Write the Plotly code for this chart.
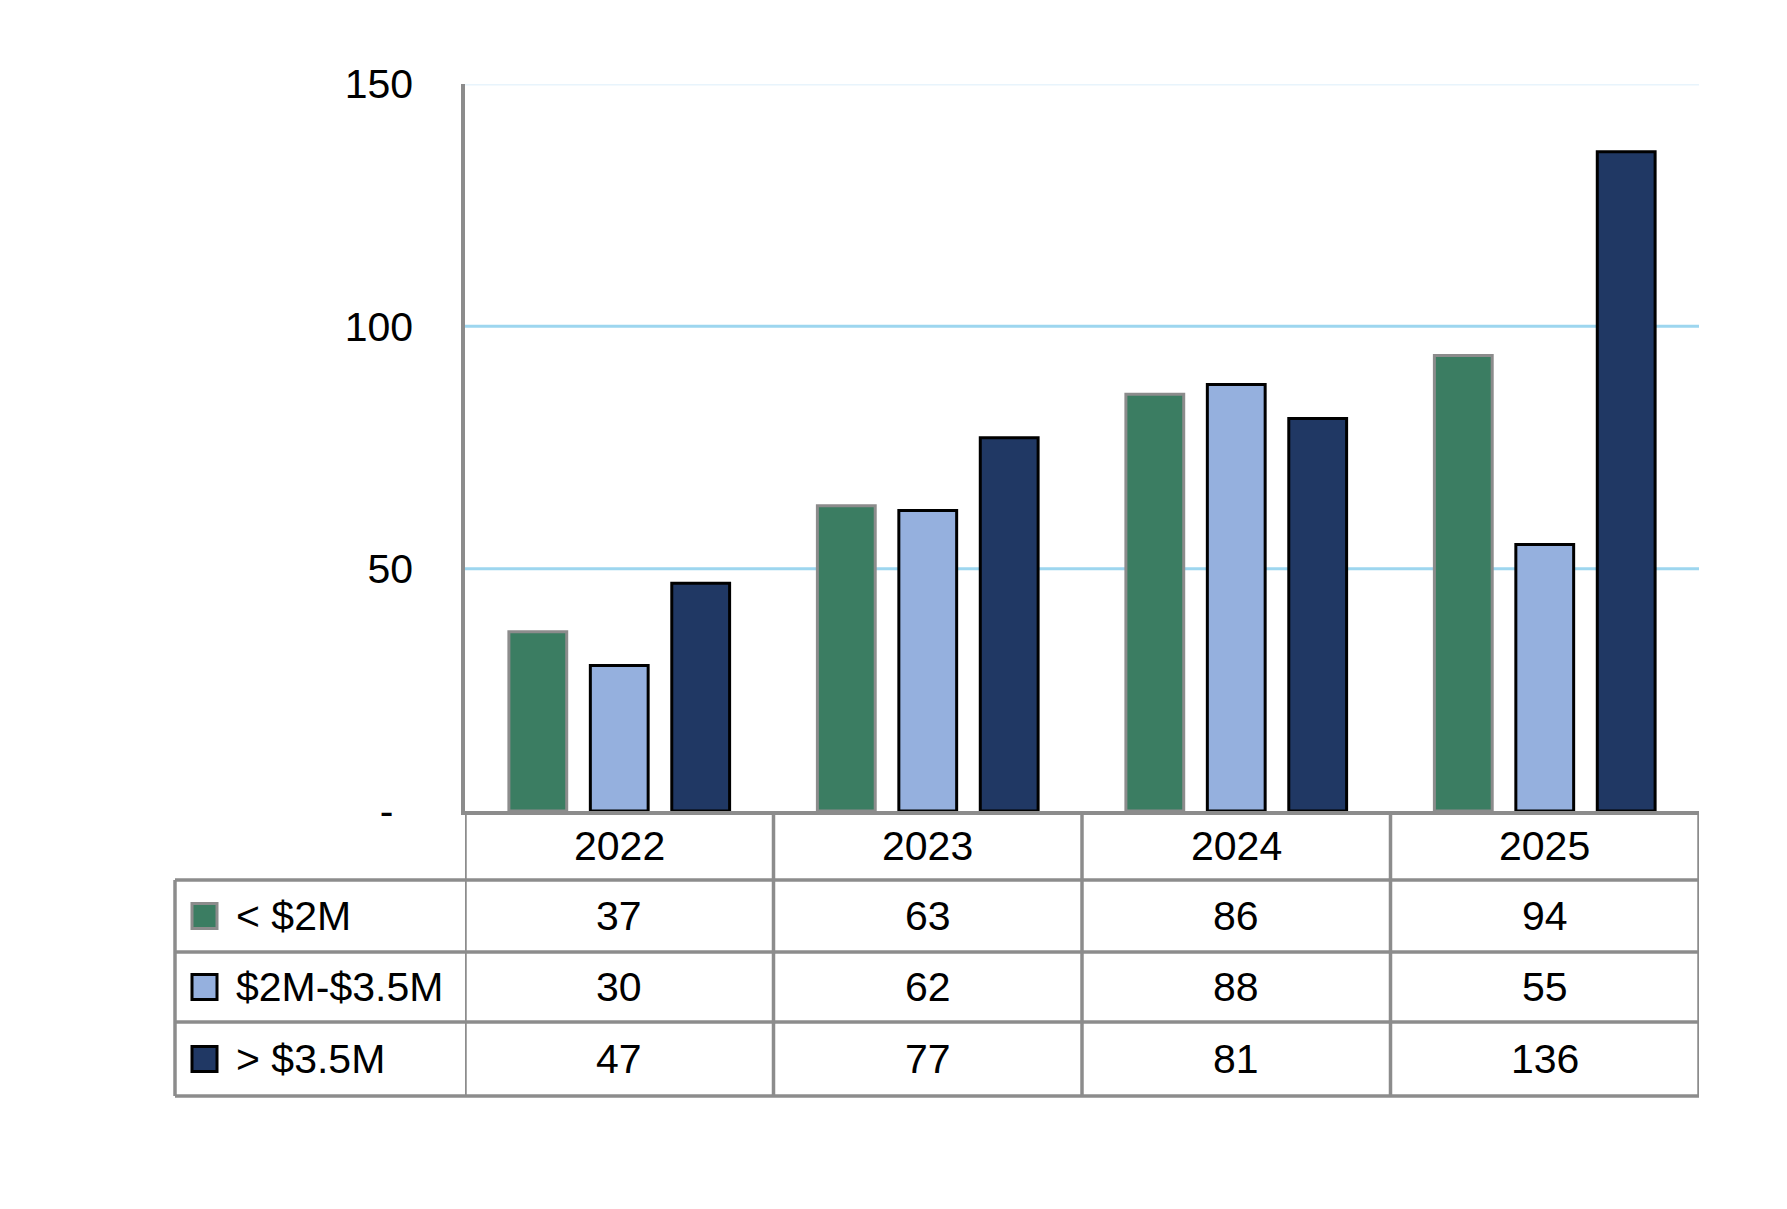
import plotly.graph_objects as go

years = ["2022", "2023", "2024", "2025"]
series_names = ["< $2M", "$2M-$3.5M", "> $3.5M"]
under_2m = [37, 63, 86, 94]
mid_2m_35m = [30, 62, 88, 55]
over_35m = [47, 77, 81, 136]
series_values = [under_2m, mid_2m_35m, over_35m]
y_tickvals = [0, 50, 100, 150]
y_ticktext = ["-\u00a0\u2009", "50", "100", "150"]

fills = ["#3B7D62", "#95B0DE", "#203864"]
outlines = ["#8C8C8C", "#000000", "#000000"]

OFF = 8  # page body margin
W, H = 1787 - OFF, 1209 - OFF
L, R, T, B = 465, 1699, 84, 811
FONT = "Liberation Sans, Arial, sans-serif"
FS = 41
GRAY = "#8C8C8C"


def px(xp):
    return (xp - L) / (R - L)


def py(yp):
    return (B - yp) / (B - T)


fig = go.Figure()
for name, vals, fc, lc in zip(series_names, series_values, fills, outlines):
    fig.add_trace(go.Bar(
        x=years, y=vals, name=name,
        marker=dict(color=fc, line=dict(color=lc, width=3)),
        showlegend=False,
    ))

shapes = []
for v, col in [(50, "#9DD6EF"), (100, "#9DD6EF"), (150, "#E8F4FC")]:
    shapes.append(dict(type="line", xref="paper", yref="y", x0=0, x1=1, y0=v, y1=v,
                       line=dict(color=col, width=3), layer="below"))

row_lines = [880, 952, 1022, 1096]
table_left = 175
LW = 3.5
for yl in row_lines:
    shapes.append(dict(type="line", xref="paper", yref="paper",
                       x0=px(table_left), x1=1, y0=py(yl), y1=py(yl),
                       line=dict(color=GRAY, width=LW)))
shapes.append(dict(type="line", xref="paper", yref="paper",
                   x0=px(table_left), x1=px(table_left), y0=py(row_lines[0]), y1=py(row_lines[-1]),
                   line=dict(color=GRAY, width=LW)))
for i in range(len(years) + 1):
    shapes.append(dict(type="line", xref="x", yref="paper",
                       x0=i - 0.5, x1=i - 0.5, y0=0, y1=py(row_lines[-1]),
                       line=dict(color=GRAY, width=LW)))

annotations = []
row_centers = [(row_lines[k] + row_lines[k + 1]) / 2 for k in range(3)]
for k, (name, vals, fc, lc) in enumerate(zip(series_names, series_values, fills, outlines)):
    yc = row_centers[k]
    shapes.append(dict(type="rect", xref="paper", yref="paper",
                       x0=px(192), x1=px(217), y0=py(yc - 12.5), y1=py(yc + 12.5),
                       fillcolor=fc, line=dict(color=lc, width=3)))
    annotations.append(dict(x=px(234), y=py(yc), xref="paper", yref="paper",
                            text=name, showarrow=False, xanchor="left", yanchor="middle",
                            font=dict(family=FONT, size=FS, color="#000000")))
    for i, v in enumerate(vals):
        annotations.append(dict(x=i, y=py(yc), xref="x", yref="paper",
                                text=str(v), showarrow=False, xanchor="center", yanchor="middle",
                                font=dict(family=FONT, size=FS, color="#000000")))
header_c = (B + row_lines[0]) / 2
for i, yr in enumerate(years):
    annotations.append(dict(x=i, y=py(header_c), xref="x", yref="paper",
                            text=yr, showarrow=False, xanchor="center", yanchor="middle",
                            font=dict(family=FONT, size=FS, color="#000000")))

fig.update_layout(
    width=W, height=H,
    margin=dict(l=L - OFF, r=W - (R - OFF), t=T - OFF, b=H - (B - OFF), pad=0),
    paper_bgcolor="white", plot_bgcolor="white",
    barmode="group", bargap=0.208, bargroupgap=0.29,
    shapes=shapes, annotations=annotations,
    font=dict(family=FONT, size=FS, color="#000000"),
)
fig.update_xaxes(type="category", range=[-0.5, len(years) - 0.5], showgrid=False,
                 showticklabels=False, showline=True,
                 linecolor=GRAY, linewidth=LW, zeroline=False, ticks="")
fig.update_yaxes(range=[0, 150], tickvals=y_tickvals, ticktext=y_ticktext,
                 showgrid=False, zeroline=False, showline=True, linecolor=GRAY, linewidth=LW,
                 ticks="outside", ticklen=40, tickcolor="rgba(0,0,0,0)",
                 tickfont=dict(family=FONT, size=FS, color="#000000"))

fig.write_html("out.html")
